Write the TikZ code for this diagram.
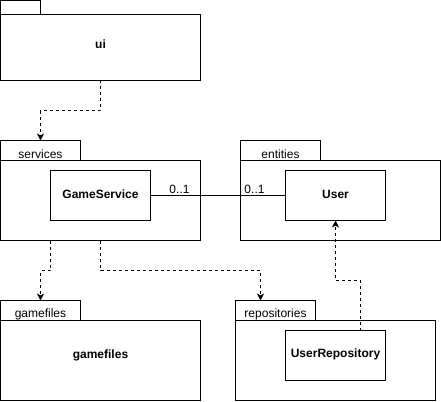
\documentclass[tikz,border=0pt]{standalone}
\usepackage{fontspec}
\setmainfont{Liberation Sans}
\usetikzlibrary{arrows.meta}
\begin{document}
\begin{tikzpicture}[x=1pt,y=-1pt,
  pkg/.style={draw, line width=1pt, inner sep=0pt, outer sep=0pt, anchor=north west},
  tablbl/.style={font=\fontsize{12}{14}\selectfont, anchor=base, inner sep=0pt},
  boldlbl/.style={font=\fontsize{12}{14}\selectfont\bfseries, anchor=base, inner sep=0pt},
  dep/.style={line width=1pt, dash pattern=on 3pt off 3pt, -{Stealth[length=7pt,width=7pt,inset=2pt]}},
  assoc/.style={line width=1pt}]
\useasboundingbox (0,0) rectangle (441,401);
\begin{scope}[shift={(0.5,0.5)}]
% ui package
\node[pkg, minimum width=40, minimum height=14] (uitab) at (0,0) {};
\node[pkg, fill=white, minimum width=200, minimum height=66] (uibody) at (0,14) {};
\node[boldlbl] (uilbl) at (100,48) {ui};
% services package
\node[pkg, minimum width=80, minimum height=20] (srvtab) at (0,140) {};
\node[tablbl] (srvlbl) at (40,158) {services};
\node[pkg, minimum width=200, minimum height=80] (srvbody) at (0,160) {};
\node[pkg, minimum width=100, minimum height=50] (gs) at (50,170) {};
\node[boldlbl] (gslbl) at (100,198) {GameService};
% entities package
\node[pkg, minimum width=80, minimum height=20] (enttab) at (240,140) {};
\node[tablbl] (entlbl) at (280,158) {entities};
\node[pkg, minimum width=200, minimum height=80] (entbody) at (240,160) {};
\node[pkg, minimum width=100, minimum height=50] (user) at (285,170) {};
\node[boldlbl] (userlbl) at (335,198) {User};
% gamefiles package
\node[pkg, minimum width=80, minimum height=20] (gftab) at (0,300) {};
\node[tablbl] (gftablbl) at (40,317) {gamefiles};
\node[pkg, minimum width=200, minimum height=80] (gfbody) at (0,320) {};
\node[boldlbl] (gflbl) at (100,358) {gamefiles};
% repositories package
\node[pkg, minimum width=80, minimum height=20] (repotab) at (235,300) {};
\node[tablbl] (repolbl) at (275,317) {repositories};
\node[pkg, minimum width=200, minimum height=80] (repobody) at (235,320) {};
\node[pkg, minimum width=100, minimum height=50] (urepo) at (285,330) {};
\node[boldlbl] (urepolbl) at (335,357) {UserRepository};
% connectors
\draw[dep] (uibody.south) -- ++(0,30) -| (srvtab.north);
\draw[dep] ([xshift=-50pt]srvbody.south) -- ++(0,30) -| (gftab.north);
\draw[dep] (srvbody.south) -- ++(0,30) -| ([xshift=25pt]repotab.north west);
\draw[dep] ([xshift=-25pt]urepo.north east) -- ++(0,-50) -| (user.south);
\draw[assoc] (gs.east) -- (user.west);
\node[tablbl] (m1) at (179,193) {0..1};
\node[tablbl] (m2) at (254,193) {0..1};
\end{scope}
\end{tikzpicture}
\end{document}
